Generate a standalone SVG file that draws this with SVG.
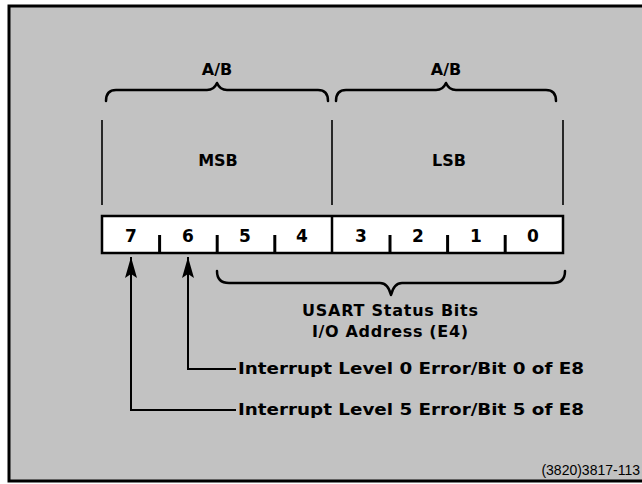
<svg xmlns="http://www.w3.org/2000/svg" width="642" height="484" viewBox="0 0 642 484">
<defs>
<style>
.t{font-family:"DejaVu Sans","Liberation Sans",sans-serif;font-weight:bold;fill:#000;}
.lbl{font-size:16px;text-anchor:middle;}
.dig{font-size:17px;text-anchor:middle;}
.br{fill:none;stroke:#000;stroke-width:2.5;stroke-linejoin:round;stroke-linecap:round;}
.thin{fill:none;stroke:#000;stroke-width:1.6;}
.conn{fill:none;stroke:#000;stroke-width:2;}
</style>
<marker id="ah" viewBox="-24 -7 26 14" refX="0" refY="0" markerWidth="26" markerHeight="14" markerUnits="userSpaceOnUse" orient="auto">
<path d="M0,0 L-21,6 L-17,0 L-21,-6 Z" fill="#000"/>
</marker>
</defs>
<rect x="9" y="6" width="640" height="475" fill="#c2c2c2" stroke="#000" stroke-width="3"/>

<g id="top-labels">
<text class="t lbl" x="217" y="75">A/B</text>
<text class="t lbl" x="446" y="75">A/B</text>
<path class="br" d="M106,101 Q106,90 116,90 L207,90 Q214,90 217,83 Q220,90 227,90 L318,90 Q328,90 328,101"/>
<path class="br" d="M336,101 Q336,90 346,90 L436,90 Q443,90 446,83 Q449,90 456,90 L546,90 Q556,90 556,101"/>
</g>

<g id="byte-lines">
<line class="thin" x1="102" y1="120" x2="102" y2="205"/>
<line class="thin" x1="332" y1="120" x2="332" y2="205"/>
<line class="thin" x1="563" y1="120" x2="563" y2="205"/>
<text class="t lbl" x="218" y="166">MSB</text>
<text class="t lbl" x="449" y="166">LSB</text>
</g>

<g id="register">
<rect x="102" y="216" width="461" height="37" fill="#fff" stroke="#000" stroke-width="2.5"/>
<line x1="332" y1="216" x2="332" y2="253" stroke="#000" stroke-width="2.5"/>
<g stroke="#000" stroke-width="3">
<line x1="159.6" y1="235" x2="159.6" y2="253"/>
<line x1="217.2" y1="235" x2="217.2" y2="253"/>
<line x1="274.8" y1="235" x2="274.8" y2="253"/>
<line x1="390" y1="235" x2="390" y2="253"/>
<line x1="447.6" y1="235" x2="447.6" y2="253"/>
<line x1="505.2" y1="235" x2="505.2" y2="253"/>
</g>
<text class="t dig" x="131" y="242">7</text>
<text class="t dig" x="188" y="242">6</text>
<text class="t dig" x="245" y="242">5</text>
<text class="t dig" x="302" y="242">4</text>
<text class="t dig" x="361" y="242">3</text>
<text class="t dig" x="418" y="242">2</text>
<text class="t dig" x="476" y="242">1</text>
<text class="t dig" x="533" y="242">0</text>
</g>

<g id="usart">
<path class="br" d="M217,271 Q217,283 229,283 L380,283 Q388,283 391,295 Q394,283 402,283 L553,283 Q565,283 565,271"/>
<text class="t lbl" x="390" y="316" textLength="176" lengthAdjust="spacing">USART Status Bits</text>
<text class="t lbl" x="390" y="337" textLength="156" lengthAdjust="spacing">I/O Address (E4)</text>
</g>

<g id="connectors">
<path class="conn" d="M236,369 L188,369 L188,257" marker-end="url(#ah)"/>
<path class="conn" d="M236,410 L131,410 L131,257" marker-end="url(#ah)"/>
</g>

<g id="notes">
<text class="t" x="238" y="374" font-size="16" textLength="346" lengthAdjust="spacingAndGlyphs">Interrupt Level 0 Error/Bit 0 of E8</text>
<text class="t" x="238" y="415" font-size="16" textLength="346" lengthAdjust="spacingAndGlyphs">Interrupt Level 5 Error/Bit 5 of E8</text>
<text x="640" y="475" font-family="Liberation Sans, Arial, sans-serif" font-size="14" text-anchor="end" fill="#000">(3820)3817-113</text>
</g>
</svg>
